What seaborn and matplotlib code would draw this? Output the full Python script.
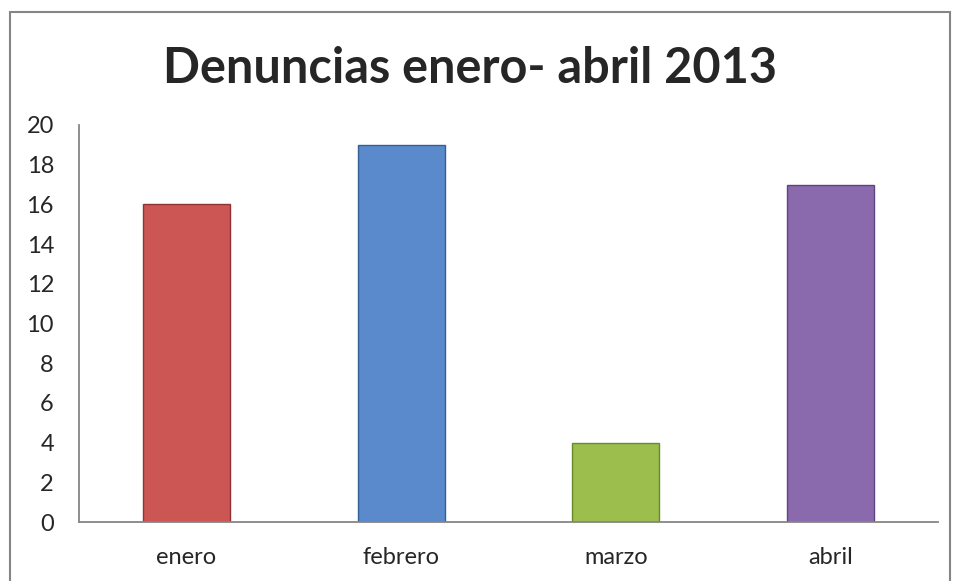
import numpy as np
import pandas as pd
import matplotlib
matplotlib.use('Agg')
import matplotlib.pyplot as plt
import matplotlib.patches as patches
import seaborn as sns

meses = ['enero', 'febrero', 'marzo', 'abril']
denuncias = [16, 19, 4, 17]
colores = ['#CB5653', '#5A8ACB', '#9BBE4C', '#8A69AD']
bordes = ['#8E3432', '#355F94', '#6A8A2A', '#5E4580']
titulo = 'Denuncias enero- abril 2013'

df = pd.DataFrame({'mes': meses, 'denuncias': denuncias})

sns.set_style('white')
plt.rcParams['font.family'] = ['Lato', 'DejaVu Sans']

fig = plt.figure(figsize=(9.54, 5.81), dpi=100)
ax = fig.add_axes([0.0828, 0.1015, 0.9004, 0.6834])

sns.barplot(data=df, x='mes', y='denuncias', hue='mes', palette=colores,
            legend=False, width=0.405, ax=ax, saturation=1)

for barra, borde in zip(ax.patches, bordes):
    barra.set_edgecolor(borde)
    barra.set_linewidth(1.0)

ax.set_xlim(-0.5, 3.5)
ax.set_ylim(0, 20)
ax.set_yticks(range(0, 21, 2))
ax.set_xticks(range(len(meses)))
ax.set_xticklabels(meses)
ax.set_xticks(np.arange(-0.5, 4, 1), minor=True)
ax.tick_params(axis='x', which='major', length=0, pad=18, labelsize=17)
ax.tick_params(axis='x', which='minor', length=7, width=1.3, color='#868686', direction='out')
ax.tick_params(axis='y', length=7, width=1.3, color='#868686', direction='out', pad=11, labelsize=17)
ax.set_xlabel('')
ax.set_ylabel('')

for lado in ['top', 'right']:
    ax.spines[lado].set_visible(False)
for lado in ['left', 'bottom']:
    ax.spines[lado].set_color('#868686')
    ax.spines[lado].set_linewidth(1.3)

fig.text(0.493, 0.882, titulo, ha='center', va='center', fontsize=35, fontweight='bold')

marco = patches.Rectangle((10 / 954, -0.05), 940 / 954, 1.05 - 12 / 581,
                          transform=fig.transFigure, fill=False,
                          edgecolor='#868686', linewidth=1.5, clip_on=False)
fig.patches.append(marco)

fig.savefig('out.png', dpi=100)
